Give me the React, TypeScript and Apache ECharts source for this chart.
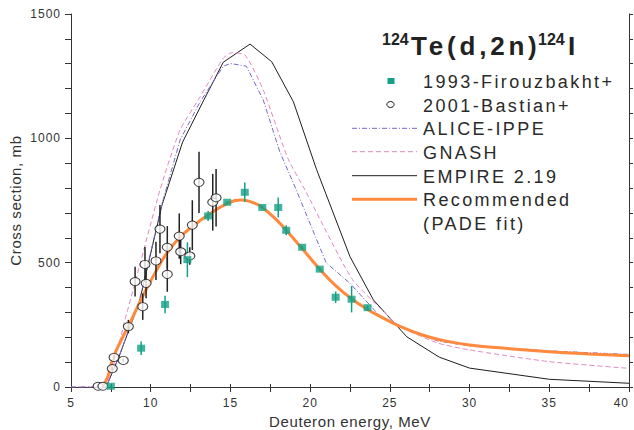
import React, { useEffect, useRef } from 'react';
import * as echarts from 'echarts';

// 1993-Firouzbakht+ (energy MeV, cross section mb, uncertainty mb)
const firouzE = [7.5, 9.4, 10.9, 12.3, 13.6, 14.8, 15.9, 17.0, 18.0, 18.5, 19.5, 20.6, 21.6, 22.6, 23.6];
const firouzS = [3, 156, 332, 512, 688, 743, 783, 722, 722, 630, 562, 474, 361, 353, 319];
const firouzErr = [5, 27, 35, 70, 20, 5, 39, 5, 40, 20, 5, 5, 23, 53, 10];

// 2001-Bastian+
const bastE = [6.7, 7.0, 7.59, 7.7, 8.28, 8.6, 9.02, 9.5, 9.64, 9.71, 10.33, 10.58, 11.04, 11.04, 11.79, 11.88, 12.45, 12.61, 13.03, 13.89, 14.1];
const bastS = [3, 3, 74, 119, 107, 243, 424, 323, 493, 417, 507, 635, 562, 453, 607, 544, 527, 651, 823, 743, 761];
const bastErr = [0, 0, 8, 10, 8, 27, 60, 53, 70, 60, 77, 97, 85, 70, 91, 50, 35, 100, 123, 114, 116];

// ALICE-IPPE
const aliceE = [5, 7.2, 8.0, 9.3, 10.7, 11.84, 13.1, 14.55, 15.0, 16.0, 17.06, 18.1, 19.05, 21.0, 22.5, 24.4, 25.6, 28.0, 30.0, 35.0, 40.0];
const aliceS = [0, 0, 120, 350, 735, 993, 1147, 1290, 1301, 1290, 1154, 945, 805, 500, 417, 283, 242, 185, 165, 145, 131];

// GNASH
const gnashE = [5, 7.0, 8.49, 10.58, 11.84, 13.1, 14.55, 15.08, 15.92, 17.06, 18.6, 19.68, 22.6, 24.5, 25.6, 28.0, 30.0, 35.0, 40.0];
const gnashS = [0, 0, 296, 792, 1033, 1167, 1322, 1344, 1335, 1194, 920, 792, 437, 310, 245, 177, 149, 102, 75];

// EMPIRE 2.19
const empireE = [7.2, 8.0, 9.3, 10.7, 12.0, 13.3, 14.55, 16.23, 17.59, 18.95, 20.4, 22.5, 23.97, 26.06, 28.1, 30.0, 35.0, 40.0];
const empireS = [0, 120, 345, 730, 985, 1150, 1306, 1379, 1308, 1147, 875, 524, 350, 202, 120, 76, 31, 15];

// Recommended (PADE fit)
const recE = [6.95, 7.3, 7.65, 8.1, 8.6, 9.1, 9.7, 10.3, 11.0, 11.8, 12.6, 13.6, 14.8, 15.7, 16.4, 17.0, 18.0, 18.5, 19.4, 20.6, 21.6, 22.6, 23.6, 24.5, 25.6, 27.0, 28.2, 30.0, 32.5, 35.0, 37.5, 40.0];
const recS = [0, 40, 118, 182, 245, 312, 390, 462, 537, 600, 645, 692, 737, 752, 742, 722, 665, 630, 564, 474, 408, 355, 312, 280, 245, 210, 189, 169, 154, 142, 133, 126];

// axes
const xMin = 5, xMax = 40, xStep = 5;
const yMin = 0, yMax = 1500, yStep = 500;

const legendNames = ['1993-Firouzbakht+', '2001-Bastian+', 'ALICE-IPPE', 'GNASH', 'EMPIRE 2.19', 'Recommended', '(PADE fit)'];

const C_TEAL = '#14a086';
const C_PURPLE = '#7468cc';
const C_PINK = '#e087c6';
const C_BLACK = '#1e1e1e';
const C_ORANGE = '#ff8a3d';
const FONT = "'Liberation Sans', Arial, sans-serif";

const css = `
#chartbox text { letter-spacing: 1px; }
#chartbox text[style*="15px"] { letter-spacing: 0.6px; }
#chartbox text[style*="18px"] { letter-spacing: 2.4px; }
#chartbox text[style*="26px"] { letter-spacing: 3.8px; }
#chartbox text[style*="16px"] { letter-spacing: 0px; }
`;

export default function App() {
  const ref = useRef<HTMLDivElement>(null);
  useEffect(() => {
    const chart = echarts.init(ref.current!, null, { renderer: 'svg' });
    const pairs = (xs: number[], ys: number[]) => xs.map((x, i) => [x, ys[i]]);
    const bars = (xs: number[], ys: number[], es: number[]) => xs.map((x, i) => [x, ys[i] - es[i], ys[i] + es[i]]);
    const errSeries = (data: number[][], color: string) => ({
      type: 'custom',
      data,
      encode: { x: 0, y: [1, 2] },
      z: 4,
      silent: true,
      renderItem: (_p: any, api: any) => {
        const a = api.coord([api.value(0), api.value(1)]);
        const b = api.coord([api.value(0), api.value(2)]);
        return {
          type: 'line',
          shape: { x1: a[0], y1: a[1], x2: b[0], y2: b[1] },
          style: { stroke: color, lineWidth: 1.5 },
        };
      },
    });
    const axisCommon = {
      axisLine: { show: true, lineStyle: { color: '#333', width: 1 } },
      splitLine: { show: false },
    };
    const rowsY = [82.1, 105.7, 129.3, 152.9, 176.5, 200.1, 223.7];
    const legendText = legendNames.map((t, i) => ({
      type: 'text',
      x: 423,
      y: rowsY[i],
      style: { text: t, fontSize: 18, fontFamily: FONT, fill: '#2a2a2a', verticalAlign: 'middle' },
    }));
    const sample = (y: number, color: string, width: number, dash: any) => ({
      type: 'line',
      shape: { x1: 352, y1: y, x2: 417, y2: y },
      style: { stroke: color, lineWidth: width, lineDash: dash },
    });

    chart.setOption({
      animation: false,
      grid: { left: 71, right: 5, top: 14, bottom: 43, containLabel: false, outerBoundsMode: 'none' },
      xAxis: [
        {
          type: 'value', min: xMin, max: xMax, interval: xStep, position: 'bottom',
          ...axisCommon,
          axisTick: { show: true, length: 5, lineStyle: { color: '#333' } },
          minorTick: { show: true, splitNumber: 2, length: 5, lineStyle: { color: '#333' } },
          axisLabel: { color: '#333', fontSize: 12, fontFamily: FONT, margin: 10, alignMaxLabel: 'right', formatter: (v: number) => String(v) },
          name: 'Deuteron energy, MeV', nameLocation: 'middle', nameGap: 23,
          nameTextStyle: { fontSize: 15, color: '#333', fontFamily: FONT },
        },
        {
          type: 'value', min: xMin, max: xMax, interval: xStep, position: 'top',
          ...axisCommon,
          axisTick: { show: true, length: 3, lineStyle: { color: '#333' } },
          minorTick: { show: true, splitNumber: 2, length: 3, lineStyle: { color: '#333' } },
          axisLabel: { show: false },
        },
      ],
      yAxis: [
        {
          type: 'value', min: yMin, max: yMax, interval: yStep, position: 'left',
          ...axisCommon,
          axisTick: { show: true, length: 6, lineStyle: { color: '#333' } },
          minorTick: { show: true, splitNumber: 5, length: 6, lineStyle: { color: '#333' } },
          axisLabel: { color: '#333', fontSize: 12, fontFamily: FONT, margin: 10, formatter: (v: number) => String(v) },
          name: 'Cross section, mb', nameLocation: 'middle', nameGap: 47,
          nameTextStyle: { fontSize: 15, color: '#333', fontFamily: FONT },
        },
        {
          type: 'value', min: yMin, max: yMax, interval: yStep, position: 'right',
          ...axisCommon,
          axisTick: { show: true, length: 4, lineStyle: { color: '#333' } },
          minorTick: { show: true, splitNumber: 5, length: 4, lineStyle: { color: '#333' } },
          axisLabel: { show: false },
        },
      ],
      series: [
        {
          type: 'line', name: 'EMPIRE 2.19', data: pairs(empireE, empireS), showSymbol: false, symbol: 'none',
          lineStyle: { color: C_BLACK, width: 1 }, z: 2, silent: true,
        },
        {
          type: 'line', name: 'GNASH', data: pairs(gnashE, gnashS), showSymbol: false, symbol: 'none',
          smooth: 0.2, lineStyle: { color: C_PINK, width: 1, type: [5, 3] }, z: 2, silent: true,
        },
        {
          type: 'line', name: 'ALICE-IPPE', data: pairs(aliceE, aliceS), showSymbol: false, symbol: 'none',
          lineStyle: { color: C_PURPLE, width: 1, type: [5, 2, 1, 2] }, z: 2, silent: true,
        },
        {
          type: 'line', name: 'Recommended (PADE fit)', data: pairs(recE, recS), showSymbol: false, symbol: 'none',
          smooth: 0.5, lineStyle: { color: C_ORANGE, width: 3 }, z: 3, silent: true,
        },
        errSeries(bars(bastE, bastS, bastErr), '#222'),
        errSeries(bars(firouzE, firouzS, firouzErr), C_TEAL),
        {
          type: 'scatter', name: '2001-Bastian+', data: pairs(bastE, bastS), symbol: 'circle', symbolSize: [10, 8],
          itemStyle: { color: '#fff', borderColor: '#111', borderWidth: 1 }, z: 5, silent: true,
        },
        {
          type: 'scatter', name: '1993-Firouzbakht+', data: pairs(firouzE, firouzS), symbol: 'rect', symbolSize: [8, 7],
          itemStyle: { color: C_TEAL }, z: 6, silent: true,
        },
      ],
      graphic: [
        { type: 'text', x: 382, y: 39.5, style: { text: '124', fontSize: 16, fontWeight: 'bold', fontFamily: FONT, fill: '#222', verticalAlign: 'middle' } },
        { type: 'text', x: 411, y: 46, style: { text: 'Te(d,2n)', fontSize: 26, fontWeight: 'bold', fontFamily: FONT, fill: '#222', verticalAlign: 'middle' } },
        { type: 'text', x: 538, y: 39.5, style: { text: '124', fontSize: 16, fontWeight: 'bold', fontFamily: FONT, fill: '#222', verticalAlign: 'middle' } },
        { type: 'text', x: 568, y: 46, style: { text: 'I', fontSize: 26, fontWeight: 'bold', fontFamily: FONT, fill: '#222', verticalAlign: 'middle' } },
        { type: 'rect', shape: { x: 387.5, y: 78, width: 7, height: 6 }, style: { fill: C_TEAL } },
        { type: 'ellipse', shape: { cx: 390.5, cy: 104.5, rx: 3.6, ry: 3 }, style: { fill: '#fff', stroke: '#111', lineWidth: 1 } },
        sample(128.3, C_PURPLE, 1, [5, 2, 1, 2]),
        sample(151.7, C_PINK, 1, [5, 3]),
        sample(175.7, C_BLACK, 1, null),
        sample(199.3, C_ORANGE, 3, null),
        ...legendText,
      ],
    });
    return () => chart.dispose();
  }, []);
  return (
    <>
      <style>{css}</style>
      <div id="chartbox" ref={ref} style={{ position: 'fixed', left: 0, top: 0, width: 634, height: 430, background: '#fff' }} />
    </>
  );
}
